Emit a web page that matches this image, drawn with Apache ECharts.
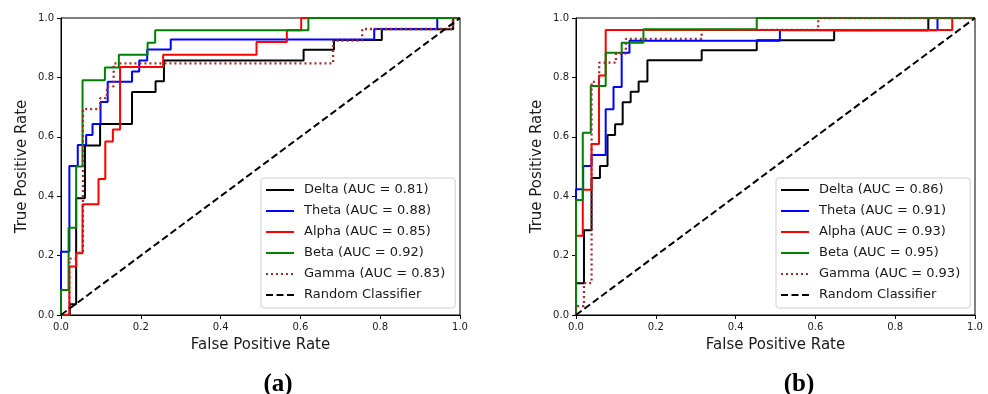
<!DOCTYPE html>
<html>
<head>
<meta charset="utf-8">
<script src="https://cdn.jsdelivr.net/npm/echarts@6/dist/echarts.min.js"></script>
<style>html,body{margin:0;padding:0;background:#fff}#c{width:988px;height:394px}</style>
</head>
<body>
<div id="c"></div>
<script>
// ---------- tick labels ----------
const axisTicks = [0, 0.2, 0.4, 0.6, 0.8, 1.0];
const panelLabels = ['(a)', '(b)'];
const bandNames = ['Delta', 'Theta', 'Alpha', 'Beta', 'Gamma'];
const aucA = ['0.81', '0.88', '0.85', '0.92', '0.83'];
const aucB = ['0.86', '0.91', '0.93', '0.95', '0.93'];
const randomName = 'Random Classifier';

// ---------- panel (a) ROC corner points ----------
const deltaA_fpr = [0,0.022,0.022,0.038,0.038,0.06,0.06,0.098,0.098,0.178,0.178,0.237,0.237,0.258,0.258,0.608,0.608,0.684,0.684,0.804,0.804,0.983,0.983,1];
const deltaA_tpr = [0,0,0.036,0.036,0.393,0.393,0.571,0.571,0.643,0.643,0.751,0.751,0.787,0.787,0.857,0.857,0.893,0.893,0.926,0.926,0.962,0.962,1,1];
const thetaA_fpr = [0,0,0.021,0.021,0.042,0.042,0.063,0.063,0.079,0.079,0.099,0.099,0.117,0.117,0.178,0.178,0.196,0.196,0.216,0.216,0.275,0.275,0.785,0.785,0.943,0.943,1];
const thetaA_tpr = [0,0.213,0.213,0.502,0.502,0.572,0.572,0.606,0.606,0.643,0.643,0.717,0.717,0.785,0.785,0.82,0.82,0.857,0.857,0.894,0.894,0.928,0.928,0.963,0.963,1,1];
const alphaA_fpr = [0,0.021,0.021,0.038,0.038,0.054,0.054,0.094,0.094,0.111,0.111,0.13,0.13,0.148,0.148,0.256,0.256,0.49,0.49,0.566,0.566,0.602,0.602,1];
const alphaA_tpr = [0,0,0.163,0.163,0.208,0.208,0.373,0.373,0.458,0.458,0.584,0.584,0.625,0.625,0.835,0.835,0.876,0.876,0.919,0.919,0.959,0.959,1,1];
const betaA_fpr = [0,0,0.019,0.019,0.038,0.038,0.054,0.054,0.110,0.110,0.145,0.145,0.217,0.217,0.236,0.236,0.62,0.62,1];
const betaA_tpr = [0,0.084,0.084,0.294,0.294,0.5,0.5,0.79,0.79,0.833,0.833,0.876,0.876,0.917,0.917,0.959,0.959,1,1];
const gammaA_fpr = [0,0.021,0.021,0.038,0.038,0.055,0.055,0.098,0.098,0.115,0.115,0.132,0.132,0.682,0.682,0.755,0.755,0.982,0.982,1];
const gammaA_tpr = [0,0,0.19,0.19,0.21,0.21,0.693,0.693,0.73,0.73,0.77,0.77,0.847,0.847,0.924,0.924,0.963,0.963,1,1];

// ---------- panel (b) ROC corner points ----------
const deltaB_fpr = [0,0,0.02,0.02,0.039,0.039,0.06,0.06,0.079,0.079,0.098,0.098,0.117,0.117,0.137,0.137,0.157,0.157,0.179,0.179,0.315,0.315,0.453,0.453,0.647,0.647,0.883,0.883,1];
const deltaB_tpr = [0,0.107,0.107,0.285,0.285,0.461,0.461,0.502,0.502,0.606,0.606,0.642,0.642,0.716,0.716,0.752,0.752,0.786,0.786,0.858,0.858,0.891,0.891,0.925,0.925,0.959,0.959,1,1];
const thetaB_fpr = [0,0,0.018,0.018,0.039,0.039,0.0744,0.0744,0.094,0.094,0.1145,0.1145,0.134,0.134,0.511,0.511,0.906,0.906,1];
const thetaB_tpr = [0,0.423,0.423,0.502,0.502,0.539,0.539,0.693,0.693,0.768,0.768,0.883,0.883,0.923,0.923,0.959,0.959,1,1];
const alphaB_fpr = [0,0,0.017,0.017,0.039,0.039,0.0577,0.0577,0.0744,0.0744,0.943,0.943,1];
const alphaB_tpr = [0,0.267,0.267,0.422,0.422,0.576,0.576,0.806,0.806,0.96,0.96,1,1];
const betaB_fpr = [0,0,0.017,0.017,0.037,0.037,0.0744,0.0744,0.1145,0.1145,0.169,0.169,0.453,0.453,1];
const betaB_tpr = [0,0.387,0.387,0.614,0.614,0.771,0.771,0.883,0.883,0.917,0.917,0.962,0.962,1,1];
const gammaB_fpr = [0,0,0.02,0.02,0.039,0.039,0.058,0.058,0.1,0.1,0.125,0.125,0.315,0.315,0.607,0.607,1];
const gammaB_tpr = [0,0.03,0.03,0.107,0.107,0.785,0.785,0.85,0.85,0.88,0.88,0.93,0.93,0.96,0.96,1,1];

// ---------- random classifier ----------
const random_fpr = [0, 1];
const random_tpr = [0, 1];

// ---------- build ----------
const colors = ['#000000', '#0000ff', '#ff0000', '#008000', '#a52a2a'];
const panels = [
  { fpr: [deltaA_fpr, thetaA_fpr, alphaA_fpr, betaA_fpr, gammaA_fpr],
    tpr: [deltaA_tpr, thetaA_tpr, alphaA_tpr, betaA_tpr, gammaA_tpr], auc: aucA },
  { fpr: [deltaB_fpr, thetaB_fpr, alphaB_fpr, betaB_fpr, gammaB_fpr],
    tpr: [deltaB_tpr, thetaB_tpr, alphaB_tpr, betaB_tpr, gammaB_tpr], auc: aucB }
];
const zip = (xs, ys) => xs.map((x, i) => [x, ys[i]]);
const FONT = 'DejaVu Sans';
const TXT = '#1a1a1a';

const grids = [
  { left: 61, right: 528, top: 18, bottom: 79 },
  { left: 576, right: 13, top: 18, bottom: 79 }
];
const legendPos = [{ left: 261, top: 178 }, { left: 776, top: 178 }];
const labelCenters = [273, 794];

const xAxes = [], yAxes = [], series = [], legends = [], titles = [];
panels.forEach((p, gi) => {
  const axisCommon = {
    gridIndex: gi, type: 'value', min: 0, max: 1, interval: 0.2,
    splitLine: { show: false },
    axisLine: { show: true, onZero: false, lineStyle: { color: '#000', width: 1 } },
    axisTick: { show: true, inside: false, length: 4, lineStyle: { color: '#000' } },
    nameLocation: 'middle',
    nameTextStyle: { fontFamily: FONT, fontSize: 15, color: TXT }
  };
  xAxes.push(Object.assign({}, axisCommon, {
    name: 'False Positive Rate', nameGap: 23,
    axisLabel: { margin: 7, fontFamily: FONT, fontSize: 10, color: TXT,
      formatter: v => axisTicks.includes(v) ? v.toFixed(1) : '' }
  }));
  yAxes.push(Object.assign({}, axisCommon, {
    name: 'True Positive Rate', nameGap: 31,
    axisLabel: { margin: 7, fontFamily: FONT, fontSize: 10, color: TXT,
      formatter: v => axisTicks.includes(v) ? v.toFixed(1) : '' }
  }));
  const names = [];
  bandNames.forEach((b, k) => {
    const nm = b + ' (AUC = ' + p.auc[k] + ')';
    names.push(nm);
    series.push({
      name: nm, type: 'line', xAxisIndex: gi, yAxisIndex: gi,
      data: zip(p.fpr[k], p.tpr[k]), symbol: 'none', animation: false,
      lineStyle: { color: colors[k], width: k === 4 ? 2.3 : 2, type: k === 4 ? [2, 3] : 'solid' },
      itemStyle: { color: colors[k] }, z: 2 + k
    });
  });
  names.push(randomName);
  series.push({
    name: randomName, type: 'line', xAxisIndex: gi, yAxisIndex: gi,
    data: zip(random_fpr, random_tpr), symbol: 'none', animation: false,
    lineStyle: { color: '#000', width: 2, type: [7, 3.5] },
    itemStyle: { color: '#000' }, z: 8
  });
  legends.push({
    orient: 'vertical', left: legendPos[gi].left, top: legendPos[gi].top,
    data: names,
    itemWidth: 28, itemHeight: 14, itemGap: 7,
    itemStyle: { opacity: 0 },
    padding: [5, 10, 6, 4],
    backgroundColor: '#fff', borderColor: '#d0d0d0', borderWidth: 1, borderRadius: 3,
    textStyle: { fontFamily: FONT, fontSize: 13, color: TXT, padding: [0, 0, 0, 5], lineHeight: 14 },
    selectedMode: false
  });
  titles.push({
    text: panelLabels[gi], left: labelCenters[gi], top: 367, textAlign: 'center',
    textStyle: { fontFamily: 'Liberation Serif', fontWeight: 'bold', fontSize: 25, color: '#000' }
  });
});

const chart = echarts.init(document.getElementById('c'), null, { renderer: 'canvas' });
chart.setOption({
  animation: false,
  backgroundColor: '#fff',
  title: titles,
  grid: grids.map(g => Object.assign({ show: true, borderColor: '#000', borderWidth: 1, backgroundColor: 'transparent' }, g)),
  xAxis: xAxes,
  yAxis: yAxes,
  legend: legends,
  series: series
});
</script>
</body>
</html>
